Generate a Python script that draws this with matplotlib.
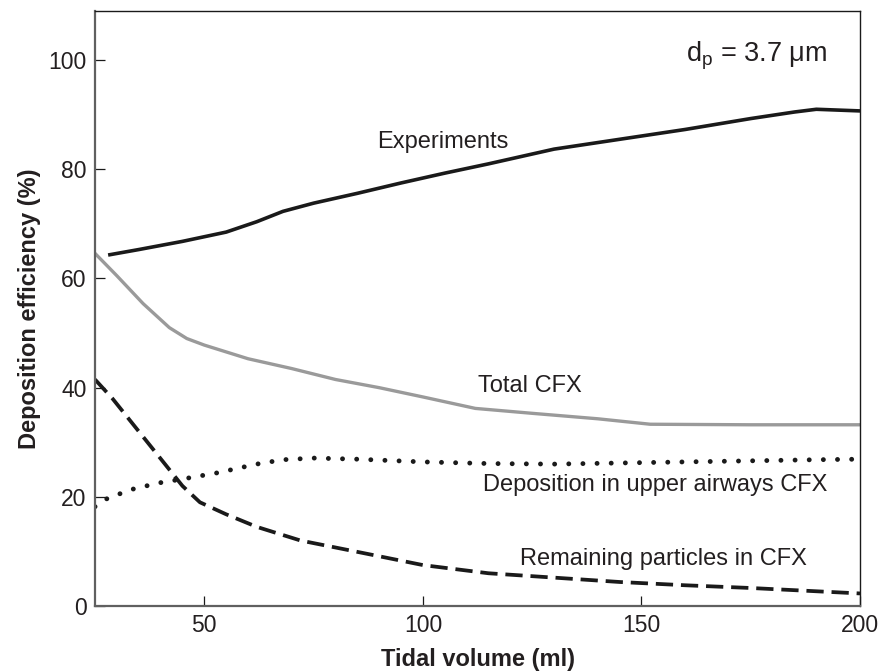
import numpy as np
import matplotlib
matplotlib.use('Agg')
import matplotlib.pyplot as plt

# Data
expX = [28, 35, 45, 55, 62, 68, 75, 85, 95, 105, 115, 130, 145, 160, 175, 185, 190, 200]
expY = [64.3, 65.3, 66.8, 68.5, 70.4, 72.3, 73.8, 75.6, 77.5, 79.3, 81.0, 83.7, 85.5, 87.3, 89.3, 90.5, 91.0, 90.7]

totalX = [25, 30, 36, 42, 46, 50, 60, 70, 80, 90, 100, 112, 125, 140, 152, 175, 200]
totalY = [64.6, 60.5, 55.4, 51.0, 49.0, 47.8, 45.3, 43.5, 41.5, 40.0, 38.3, 36.2, 35.3, 34.3, 33.3, 33.2, 33.2]

upperX = [25, 28, 34, 40, 46, 53, 62, 68, 75, 85, 100, 115, 130, 145, 160, 175, 190, 200]
upperY = [18.2, 19.8, 21.5, 22.6, 23.4, 24.4, 26.0, 26.8, 27.1, 26.9, 26.4, 26.1, 26.0, 26.2, 26.4, 26.6, 26.8, 26.9]

remainX = [25, 29, 33, 37, 41, 45, 49, 55, 62, 72, 87, 100, 115, 130, 145, 160, 175, 190, 200]
remainY = [41.5, 38.0, 34.0, 30.0, 26.0, 22.0, 19.0, 16.8, 14.5, 12.0, 9.6, 7.5, 6.0, 5.2, 4.4, 3.8, 3.3, 2.7, 2.3]

xTicks = [50, 100, 150, 200]
yTicks = [0, 20, 40, 60, 80, 100]

plt.rcParams['font.family'] = ['Liberation Sans', 'DejaVu Sans']
txtCol = '#231f20'

fig = plt.figure(figsize=(8.83, 6.72), dpi=100)
ax = fig.add_axes([0.1076, 0.0982, 0.8664, 0.8854])

ax.plot(expX, expY, color='#1a1a1a', lw=2.6, solid_capstyle='butt')
ax.plot(totalX, totalY, color='#9a9a9a', lw=2.4)
ax.plot(upperX, upperY, color='#1a1a1a', lw=3.5, linestyle=(0, (0.01, 2.9)),
        dash_capstyle='round')
ax.plot(remainX, remainY, color='#1a1a1a', lw=2.7, linestyle=(0, (4.6, 2.1)))

ax.set_xlim(25, 200)
ax.set_ylim(0, 109)
ax.set_xticks(xTicks)
ax.set_yticks(yTicks)
ax.tick_params(direction='in', length=7, width=0.9, labelsize=16.5,
               labelcolor=txtCol, color='#1a1a1a', pad=6)

for s in ['left', 'bottom']:
    ax.spines[s].set_color('#606060')
    ax.spines[s].set_linewidth(1.6)
for s in ['top', 'right']:
    ax.spines[s].set_color('#1a1a1a')
    ax.spines[s].set_linewidth(1.0)

ax.set_xlabel('Tidal volume (ml)', fontsize=17, fontweight='bold', color=txtCol, labelpad=8)
ax.set_ylabel('Deposition efficiency (%)', fontsize=17, fontweight='bold', color=txtCol, labelpad=5)

# Curve labels
ax.text(104.5, 85.0, 'Experiments', fontsize=17, color=txtCol, ha='center', va='center')
ax.text(124.5, 40.3, 'Total CFX', fontsize=17, color=txtCol, ha='center', va='center')
ax.text(113.8, 22.2, 'Deposition in upper airways CFX', fontsize=17, color=txtCol,
        ha='left', va='center')
ax.text(122.2, 8.7, 'Remaining particles in CFX', fontsize=17, color=txtCol,
        ha='left', va='center')
ax.text(160.2, 100.8, r'd$_\mathregular{p}$ = 3.7 $\mathregular{\mu}$m', fontsize=19.5,
        color=txtCol, ha='left', va='center')

fig.savefig('out.png', dpi=100)
